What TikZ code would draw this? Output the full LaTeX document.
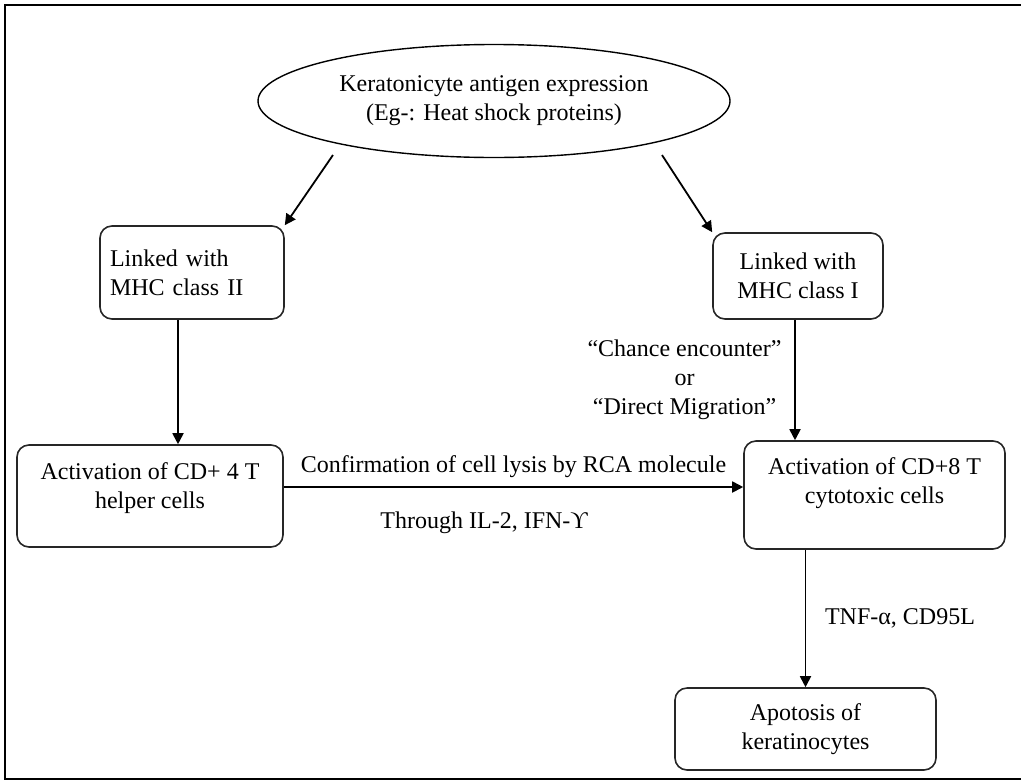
\documentclass[tikz,border=0pt]{standalone}
\usepackage{fontspec}
\setmainfont{Liberation Serif}
\usetikzlibrary{shapes.geometric,arrows.meta}

\begin{document}
\begin{tikzpicture}[x=0.5pt, y=-0.5pt,
    stage/.style={rectangle, rounded corners=6pt, draw=black!85, line width=0.8pt, align=center, inner sep=0pt, font=\fontsize{12}{14.5}\selectfont},
    note/.style={align=center, font=\fontsize{12}{14.5}\selectfont},
    arr/.style={-{Triangle[length=5.5pt,width=5.5pt]}, line width=0.9pt}]
    \useasboundingbox (0,0) rectangle (1021,782);
    \draw [line width=1.3pt] (1021,5) -- (5,5) -- (5,779) -- (1021,779);

    \node [ellipse, draw, line width=0.7pt, minimum width=236pt, minimum height=56.5pt, inner sep=0pt, note] (antigen) at (494,101) {Keratonicyte antigen expression\\(Eg-: Heat shock proteins)};

    \begin{scope}[every node/.style={stage}]
        \node [minimum width=92pt, minimum height=46.5pt, text width=82pt, align=left] (mhc2) at (192,272.5) {Linked with\\MHC class II};
        \node [minimum width=85pt, minimum height=43pt] (mhc1) at (798,276) {Linked with\\MHC class I};
        \node [minimum width=133pt, minimum height=51pt, text depth=10pt] (cd4) at (150,496) {Activation of CD+ 4 T\\helper cells};
        \node [minimum width=130.5pt, minimum height=54pt, text depth=14pt] (cd8) at (874.5,495) {Activation of CD+8 T\\cytotoxic cells};
        \node [minimum width=130.5pt, minimum height=41pt] (apop) at (805.5,729) {Apotosis of\\keratinocytes};
    \end{scope}

    \coordinate (al) at (333,155);
    \coordinate (ar) at (662,155);

    \begin{scope}[every node/.style={note}]
        \draw [arr] (al) -- (mhc2.north east);
        \draw [arr] (ar) -- (mhc1.north west);
        \draw [arr] ([xshift=-7pt]mhc2.south) -- ([xshift=-7pt]mhc2.south |- cd4.north);
        \draw [arr] ([xshift=-1.5pt]mhc1.south) -- ([xshift=-1.5pt]mhc1.south |- cd8.north)
            node [midway, left=3pt] (route) {``Chance encounter''\\or\\``Direct Migration''};
        \draw [arr] ([yshift=4.5pt]cd4.east) -- ([yshift=4.5pt]cd4.east -| cd8.west)
            node [midway, above=1pt] (lysis) {Confirmation of cell lysis by RCA molecule}
            node [pos=0.436, below=8.5pt] (cytok) {Through IL-2, IFN-ϒ};
        \draw [arr] (apop.north |- cd8.south) -- (apop.north)
            node [midway, right=6pt] (tnf) {TNF-α, CD95L};
    \end{scope}
\end{tikzpicture}
\end{document}
